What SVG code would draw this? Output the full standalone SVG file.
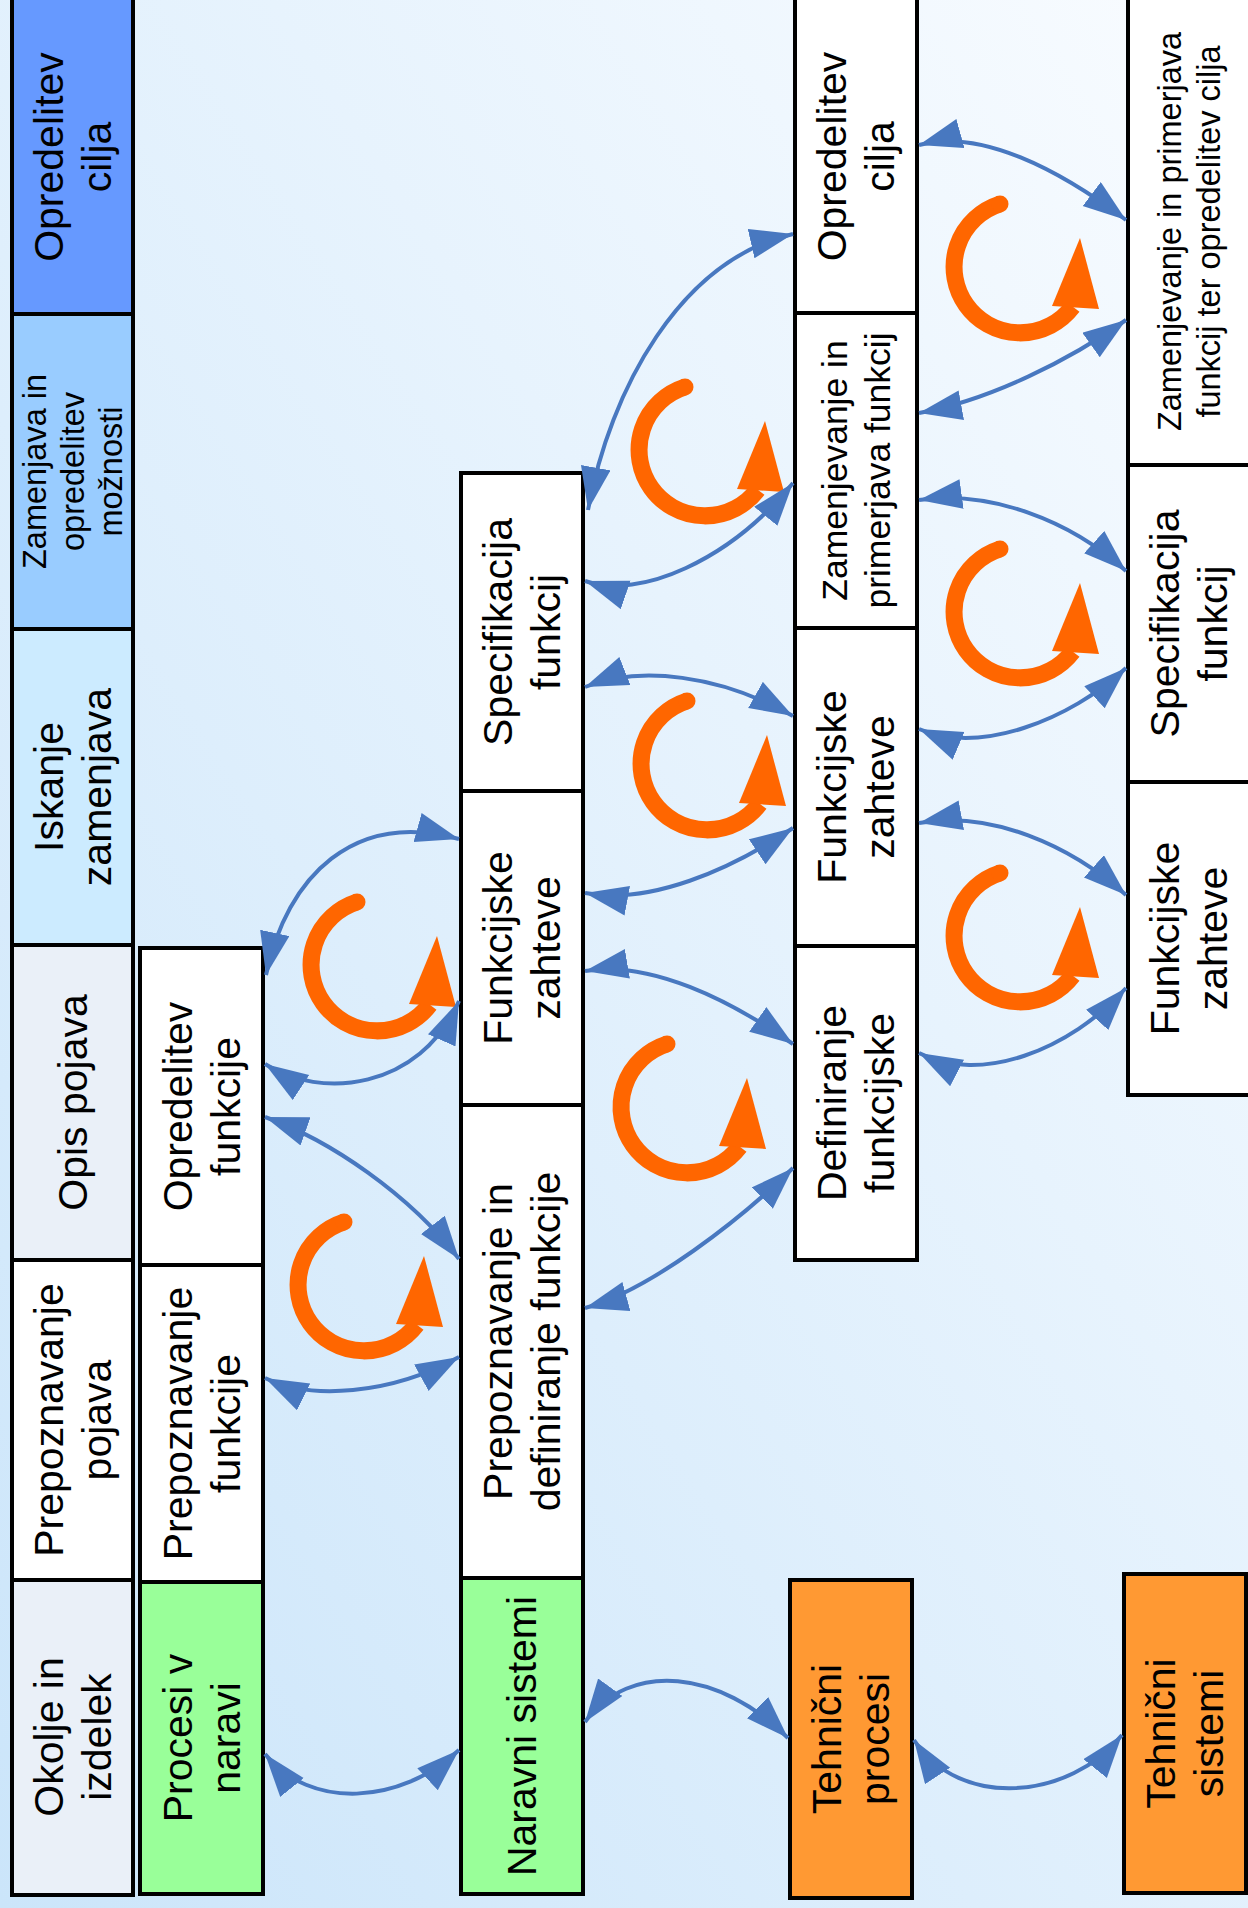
<svg xmlns="http://www.w3.org/2000/svg" xmlns:xlink="http://www.w3.org/1999/xlink" width="1248" height="1908" viewBox="0 0 1248 1908">
  <defs>
    <linearGradient id="bg" x1="0" y1="1" x2="1" y2="0">
      <stop offset="0" stop-color="#CBE5FA"/>
      <stop offset="1" stop-color="#F9FCFF"/>
    </linearGradient>
    <marker id="head" markerUnits="userSpaceOnUse" markerWidth="46" markerHeight="32" refX="43" refY="15" orient="auto-start-reverse">
      <path d="M0,0 L43,15 L0,30 z" fill="#4878C0"/>
    </marker>
    <!-- rotating cycle arrow, drawn around its own centre -->
    <g id="cycle">
      <path d="M-20,-63 A66,66 0 1 0 52.7,39.7" fill="none" stroke="#FF6600" stroke-width="17"/>
      <circle cx="-20" cy="-63" r="8.5" fill="#FF6600"/>
      <polygon points="60,-29 79,42 32,39" fill="#FF6600"/>
    </g>
    <style>
      .box { stroke: #000; stroke-width: 4; }
      .t { font-family: "Liberation Sans", Arial, sans-serif; font-size: 41px; text-anchor: middle; fill: #000; }
      .s32 { font-size: 32.5px; }
      .s34 { font-size: 35.5px; }
      .s31 { font-size: 32.5px; }
      .link { fill: none; stroke: #4878C0; stroke-width: 4; marker-start: url(#head); marker-end: url(#head); }
    </style>
  </defs>

  <rect x="0" y="0" width="1248" height="1908" fill="url(#bg)"/>

  <!-- phase column -->
  <g id="phase-cilj">
    <rect class="box" x="12" y="-5" width="121" height="319" fill="#6699FF"/>
    <text class="t" transform="translate(72.5,157) rotate(-90)"><tspan x="0" y="-9.6">Opredelitev</tspan><tspan x="0" y="38.4">cilja</tspan></text>
  </g>
  <g id="phase-zamenjava">
    <rect class="box" x="12" y="314" width="121" height="315" fill="#99CCFF"/>
    <text class="t s32" transform="translate(72.5,471.5) rotate(-90)"><tspan x="0" y="-26.8">Zamenjava in</tspan><tspan x="0" y="11.4">opredelitev</tspan><tspan x="0" y="49.6">možnosti</tspan></text>
  </g>
  <g id="phase-iskanje">
    <rect class="box" x="12" y="629" width="121" height="316" fill="#CCEBFF"/>
    <text class="t" transform="translate(72.5,787) rotate(-90)"><tspan x="0" y="-9.6">Iskanje</tspan><tspan x="0" y="38.4">zamenjava</tspan></text>
  </g>
  <g id="phase-opis">
    <rect class="box" x="12" y="945" width="121" height="315" fill="#EAF0F8"/>
    <text class="t" transform="translate(72.5,1102.5) rotate(-90)" y="14.4">Opis pojava</text>
  </g>
  <g id="phase-prepoznavanje">
    <rect class="box" x="12" y="1260" width="121" height="320" fill="#FFFFFF"/>
    <text class="t" transform="translate(72.5,1420) rotate(-90)"><tspan x="0" y="-9.6">Prepoznavanje</tspan><tspan x="0" y="38.4">pojava</tspan></text>
  </g>
  <g id="phase-okolje">
    <rect class="box" x="12" y="1580" width="121" height="315" fill="#EAF0F8"/>
    <text class="t" transform="translate(72.5,1737) rotate(-90)"><tspan x="0" y="-9.6">Okolje in</tspan><tspan x="0" y="38.4">izdelek</tspan></text>
  </g>

  <!-- second column -->
  <g id="opredelitev-funkcije">
    <rect class="box" x="140" y="948" width="123" height="317" fill="#FFFFFF"/>
    <text class="t" transform="translate(201.5,1106.5) rotate(-90)"><tspan x="0" y="-9.6">Opredelitev</tspan><tspan x="0" y="38.4">funkcije</tspan></text>
  </g>
  <g id="prepoznavanje-funkcije">
    <rect class="box" x="140" y="1265" width="123" height="317" fill="#FFFFFF"/>
    <text class="t" transform="translate(201.5,1423.5) rotate(-90)"><tspan x="0" y="-9.6">Prepoznavanje</tspan><tspan x="0" y="38.4">funkcije</tspan></text>
  </g>
  <g id="procesi-v-naravi">
    <rect class="box" x="140" y="1582" width="123" height="312" fill="#99FF99"/>
    <text class="t" transform="translate(201.5,1738) rotate(-90)"><tspan x="0" y="-9.6">Procesi v</tspan><tspan x="0" y="38.4">naravi</tspan></text>
  </g>

  <!-- third column -->
  <g id="specifikacija-funkcij-1">
    <rect class="box" x="461" y="473" width="122" height="318" fill="#FFFFFF"/>
    <text class="t" transform="translate(522,632) rotate(-90)"><tspan x="0" y="-9.6">Specifikacija</tspan><tspan x="0" y="38.4">funkcij</tspan></text>
  </g>
  <g id="funkcijske-zahteve-1">
    <rect class="box" x="461" y="791" width="122" height="314" fill="#FFFFFF"/>
    <text class="t" transform="translate(522,948) rotate(-90)"><tspan x="0" y="-9.6">Funkcijske</tspan><tspan x="0" y="38.4">zahteve</tspan></text>
  </g>
  <g id="prepoznavanje-definiranje">
    <rect class="box" x="461" y="1105" width="122" height="473" fill="#FFFFFF"/>
    <text class="t" transform="translate(522,1341.5) rotate(-90)"><tspan x="0" y="-9.6">Prepoznavanje in</tspan><tspan x="0" y="38.4">definiranje funkcije</tspan></text>
  </g>
  <g id="naravni-sistemi">
    <rect class="box" x="461" y="1578" width="122" height="316" fill="#99FF99"/>
    <text class="t" transform="translate(522,1736) rotate(-90)" y="14.4">Naravni sistemi</text>
  </g>

  <!-- fourth column -->
  <g id="opredelitev-cilja">
    <rect class="box" x="795" y="-5" width="122" height="318" fill="#FFFFFF"/>
    <text class="t" transform="translate(856,156.5) rotate(-90)"><tspan x="0" y="-9.6">Opredelitev</tspan><tspan x="0" y="38.4">cilja</tspan></text>
  </g>
  <g id="zamenjevanje-primerjava">
    <rect class="box" x="795" y="313" width="122" height="315" fill="#FFFFFF"/>
    <text class="t s34" transform="translate(856,470.5) rotate(-90)"><tspan x="0" y="-8.6">Zamenjevanje in</tspan><tspan x="0" y="33.8">primerjava funkcij</tspan></text>
  </g>
  <g id="funkcijske-zahteve-2">
    <rect class="box" x="795" y="628" width="122" height="318" fill="#FFFFFF"/>
    <text class="t" transform="translate(856,787) rotate(-90)"><tspan x="0" y="-9.6">Funkcijske</tspan><tspan x="0" y="38.4">zahteve</tspan></text>
  </g>
  <g id="definiranje-funkcijske">
    <rect class="box" x="795" y="946" width="122" height="314" fill="#FFFFFF"/>
    <text class="t" transform="translate(856,1103) rotate(-90)"><tspan x="0" y="-9.6">Definiranje</tspan><tspan x="0" y="38.4">funkcijske</tspan></text>
  </g>
  <g id="tehnicni-procesi">
    <rect class="box" x="790" y="1580" width="122" height="318" fill="#FF9933"/>
    <text class="t" transform="translate(851,1739) rotate(-90)"><tspan x="0" y="-9.6">Tehnični</tspan><tspan x="0" y="38.4">procesi</tspan></text>
  </g>

  <!-- fifth column -->
  <g id="zamenjevanje-cilj">
    <rect class="box" x="1128" y="-5" width="126" height="470" fill="#FFFFFF"/>
    <text class="t s31" transform="translate(1189,231.5) rotate(-90)"><tspan x="0" y="-8.2">Zamenjevanje in primerjava</tspan><tspan x="0" y="31">funkcij ter opredelitev cilja</tspan></text>
  </g>
  <g id="specifikacija-funkcij-2">
    <rect class="box" x="1128" y="465" width="126" height="317" fill="#FFFFFF"/>
    <text class="t" transform="translate(1189,623.5) rotate(-90)"><tspan x="0" y="-9.6">Specifikacija</tspan><tspan x="0" y="38.4">funkcij</tspan></text>
  </g>
  <g id="funkcijske-zahteve-3">
    <rect class="box" x="1128" y="782" width="126" height="313" fill="#FFFFFF"/>
    <text class="t" transform="translate(1189,938.5) rotate(-90)"><tspan x="0" y="-9.6">Funkcijske</tspan><tspan x="0" y="38.4">zahteve</tspan></text>
  </g>
  <g id="tehnicni-sistemi">
    <rect class="box" x="1124" y="1574" width="122" height="319" fill="#FF9933"/>
    <text class="t" transform="translate(1185,1733.5) rotate(-90)"><tspan x="0" y="-9.6">Tehnični</tspan><tspan x="0" y="38.4">sistemi</tspan></text>
  </g>

  <!-- iteration cycles between columns -->
  <g id="cycles">
    <use xlink:href="#cycle" x="377" y="965"/>
    <use xlink:href="#cycle" x="364" y="1285"/>
    <use xlink:href="#cycle" x="705" y="450"/>
    <use xlink:href="#cycle" x="707" y="764"/>
    <use xlink:href="#cycle" x="687" y="1107"/>
    <use xlink:href="#cycle" x="1020" y="267"/>
    <use xlink:href="#cycle" x="1020" y="612"/>
    <use xlink:href="#cycle" x="1020" y="936"/>
  </g>

  <!-- two-way links -->
  <g id="connectors">
    <path class="link" d="M265,1754 C310,1810 400,1805 459,1750"/>
    <path class="link" d="M265,1378 C310,1400 390,1395 459,1357"/>
    <path class="link" d="M265,1117 C330,1140 410,1195 459,1259"/>
    <path class="link" d="M265,1064 C320,1100 420,1090 459,1001"/>
    <path class="link" d="M266,975 C287,875 355,810 459,839"/>
    <path class="link" d="M585,971 C650,960 730,1000 793,1044"/>
    <path class="link" d="M585,1308 C650,1290 740,1220 793,1168"/>
    <path class="link" d="M585,893 C650,905 730,870 793,828"/>
    <path class="link" d="M585,687 C640,665 720,675 793,716"/>
    <path class="link" d="M585,581 C640,600 730,560 793,483"/>
    <path class="link" d="M588,510 C610,390 680,260 793,234"/>
    <path class="link" d="M919,145 C980,128 1060,170 1126,220"/>
    <path class="link" d="M919,413 C990,400 1070,360 1126,320"/>
    <path class="link" d="M919,500 C990,490 1070,520 1126,571"/>
    <path class="link" d="M919,729 C980,755 1070,720 1126,668"/>
    <path class="link" d="M919,823 C990,810 1070,845 1126,895"/>
    <path class="link" d="M919,1053 C980,1085 1070,1050 1126,988"/>
    <path class="link" d="M585,1722 C630,1660 720,1670 788,1738"/>
    <path class="link" d="M914,1740 C960,1810 1070,1800 1122,1735"/>
  </g>
</svg>
